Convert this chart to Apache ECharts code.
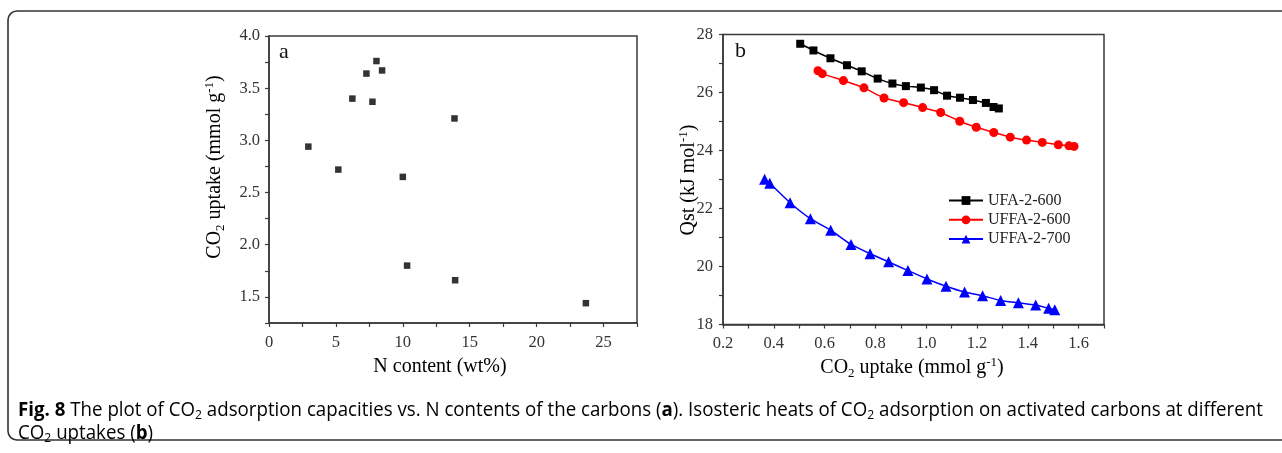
<!DOCTYPE html>
<html>
<head>
<meta charset="utf-8">
<script src="https://cdn.jsdelivr.net/npm/echarts@6/dist/echarts.min.js"></script>
<style>
html,body{margin:0;padding:0;background:#fff;}
#c{width:1282px;height:453px;}
</style>
</head>
<body>
<div id="c"></div>
<script>
// Panel a: N content (wt%) vs CO2 uptake (mmol/g)
const nContent = [2.94, 5.18, 6.23, 7.28, 7.73, 8.03, 8.45, 10.0, 10.32, 13.86, 13.91, 23.68];
const co2Uptake = [2.94, 2.72, 3.40, 3.64, 3.37, 3.76, 3.67, 2.65, 1.80, 3.21, 1.66, 1.44];

// Panel b: Qst vs CO2 uptake
const ufa600X = [0.504, 0.556, 0.623, 0.688, 0.746, 0.809, 0.867, 0.920, 0.979, 1.031, 1.082, 1.133, 1.184, 1.235, 1.265, 1.286];
const ufa600Y = [27.68, 27.45, 27.18, 26.94, 26.73, 26.48, 26.31, 26.22, 26.17, 26.08, 25.89, 25.82, 25.74, 25.64, 25.50, 25.45];
const uffa600X = [0.574, 0.591, 0.674, 0.755, 0.834, 0.911, 0.986, 1.057, 1.132, 1.197, 1.266, 1.331, 1.395, 1.457, 1.520, 1.562, 1.582];
const uffa600Y = [26.75, 26.65, 26.41, 26.16, 25.81, 25.65, 25.48, 25.31, 25.01, 24.80, 24.62, 24.46, 24.36, 24.28, 24.20, 24.16, 24.14];
const uffa700X = [0.364, 0.384, 0.464, 0.544, 0.624, 0.704, 0.779, 0.852, 0.928, 1.003, 1.078, 1.151, 1.222, 1.293, 1.363, 1.431, 1.482, 1.506];
const uffa700Y = [23.01, 22.87, 22.20, 21.65, 21.25, 20.76, 20.44, 20.16, 19.86, 19.57, 19.32, 19.12, 18.99, 18.83, 18.75, 18.67, 18.56, 18.51];

const seriesNames = ['UFA-2-600', 'UFFA-2-600', 'UFFA-2-700'];

const zip = (xs, ys) => xs.map((x, i) => [x, ys[i]]);
const isMult = (v, m) => Math.abs(v / m - Math.round(v / m)) < 1e-6;

const SERIF = '"Liberation Serif", "DejaVu Serif", serif';
const AX = '#3a3a3a';
const TXT = '#333';

const richAxis = {
  n: {fontFamily: SERIF, fontSize: 20, color: '#222', lineHeight: 24, verticalAlign: 'middle'},
  sub: {fontFamily: SERIF, fontSize: 13, color: '#222', lineHeight: 13, verticalAlign: 'bottom'},
  sup: {fontFamily: SERIF, fontSize: 13, color: '#222', lineHeight: 13, verticalAlign: 'top'}
};

function axisCommon(margin) {
  return {
    axisLine: {show: true, onZero: false, lineStyle: {color: AX, width: 1.5}},
    axisTick: {show: true, inside: false, length: 4, lineStyle: {color: AX, width: 1.2}},
    splitLine: {show: false},
    axisLabel: {fontFamily: SERIF, fontSize: 16.5, color: TXT, margin: margin}
  };
}

const chart = echarts.init(document.getElementById('c'), null, {renderer: 'canvas'});

const CAP = '"Open Sans", "Noto Sans", sans-serif';
const capRich = {
  b: {fontFamily: CAP, fontSize: 20, fontWeight: 'bold', color: '#333', lineHeight: 23, verticalAlign: 'middle'},
  t: {fontFamily: CAP, fontSize: 20, color: '#444', lineHeight: 23, verticalAlign: 'middle'},
  s: {fontFamily: CAP, fontSize: 13, color: '#444', lineHeight: 13, verticalAlign: 'bottom'}
};

const option = {
  animation: false,
  backgroundColor: '#fff',
  grid: [
    {left: 269, top: 36, width: 368, height: 287, show: true, borderColor: AX, borderWidth: 1.5, containLabel: false},
    {left: 723, top: 34.5, width: 381, height: 290, show: true, borderColor: AX, borderWidth: 1.5, containLabel: false}
  ],
  xAxis: [
    Object.assign(axisCommon(11), {
      gridIndex: 0, type: 'value', min: 0, max: 27.5, interval: 2.5,
      axisLabel: Object.assign(axisCommon(11).axisLabel, {
        formatter: v => isMult(v, 5) && v < 27 ? String(Math.round(v)) : ''
      })
    }),
    Object.assign(axisCommon(11), {
      gridIndex: 1, type: 'value', min: 0.2, max: 1.7, interval: 0.1,
      axisLabel: Object.assign(axisCommon(11).axisLabel, {
        formatter: v => isMult(v, 0.2) && v < 1.65 ? v.toFixed(1) : ''
      })
    })
  ],
  yAxis: [
    Object.assign(axisCommon(9), {
      gridIndex: 0, type: 'value', min: 1.25, max: 4.0, interval: 0.25,
      axisLabel: Object.assign(axisCommon(9).axisLabel, {
        formatter: v => isMult(v, 0.5) ? v.toFixed(1) : ''
      })
    }),
    Object.assign(axisCommon(10), {
      gridIndex: 1, type: 'value', min: 18, max: 28, interval: 1,
      axisLabel: Object.assign(axisCommon(10).axisLabel, {
        formatter: v => isMult(v, 2) ? String(Math.round(v)) : ''
      })
    })
  ],
  legend: {
    orient: 'vertical',
    left: 943, top: 187.5,
    itemWidth: 34, itemHeight: 11, itemGap: 3.3,
    textStyle: {fontFamily: SERIF, fontSize: 16, color: '#222', lineHeight: 16},
    data: seriesNames
  },
  series: [
    {
      type: 'scatter', xAxisIndex: 0, yAxisIndex: 0,
      data: zip(nContent, co2Uptake),
      symbol: 'rect', symbolSize: 6.5,
      itemStyle: {color: '#000'}
    },
    {
      name: seriesNames[0], type: 'line', xAxisIndex: 1, yAxisIndex: 1,
      data: zip(ufa600X, ufa600Y), smooth: 0.2,
      symbol: 'rect', symbolSize: 8,
      lineStyle: {color: '#000', width: 1.5}, itemStyle: {color: '#000'}
    },
    {
      name: seriesNames[1], type: 'line', xAxisIndex: 1, yAxisIndex: 1,
      data: zip(uffa600X, uffa600Y), smooth: 0.2,
      symbol: 'circle', symbolSize: 9,
      lineStyle: {color: '#ff0000', width: 1.5}, itemStyle: {color: '#ff0000'}
    },
    {
      name: seriesNames[2], type: 'line', xAxisIndex: 1, yAxisIndex: 1,
      data: zip(uffa700X, uffa700Y), smooth: 0.2,
      symbol: 'triangle', symbolSize: 11,
      lineStyle: {color: '#0000ff', width: 1.5}, itemStyle: {color: '#0000ff'}
    }
  ],
  graphic: [
    {
      type: 'rect', silent: true, z: -1,
      shape: {x: 8, y: 11, width: 1300, height: 429, r: 9},
      style: {fill: 'none', stroke: '#333', lineWidth: 1.6}
    },
    {type: 'text', left: 279, top: 41, style: {text: 'a', font: '22px ' + SERIF, fill: '#111'}},
    {type: 'text', left: 735, top: 40, style: {text: 'b', font: '22px ' + SERIF, fill: '#111'}},
    {
      type: 'text', x: 440, y: 367,
      style: {text: '{n|N content (wt%)}', rich: richAxis, align: 'center', verticalAlign: 'middle'}
    },
    {
      type: 'text', x: 215, y: 167, rotation: Math.PI / 2,
      style: {text: '{n|CO}{sub|2}{n| uptake (mmol g}{sup|-1}{n|)}', rich: richAxis, align: 'center', verticalAlign: 'middle'}
    },
    {
      type: 'text', x: 912, y: 368,
      style: {text: '{n|CO}{sub|2}{n| uptake (mmol g}{sup|-1}{n|)}', rich: richAxis, align: 'center', verticalAlign: 'middle'}
    },
    {
      type: 'text', x: 689, y: 180, rotation: Math.PI / 2,
      style: {text: '{n|Qst (kJ mol}{sup|-1}{n|)}', rich: richAxis, align: 'center', verticalAlign: 'middle'}
    },
    {
      type: 'text', x: 18, y: 399, scaleX: 0.935,
      style: {
        text: '{b|Fig. 8}{t| The plot of CO}{s|2}{t| adsorption capacities vs. N contents of the carbons (}{b|a}{t|). Isosteric heats of CO}{s|2}{t| adsorption on activated carbons at different}\n{t|CO}{s|2}{t| uptakes (}{b|b}{t|)}',
        rich: capRich
      }
    }
  ]
};

chart.setOption(option);
</script>
</body>
</html>
